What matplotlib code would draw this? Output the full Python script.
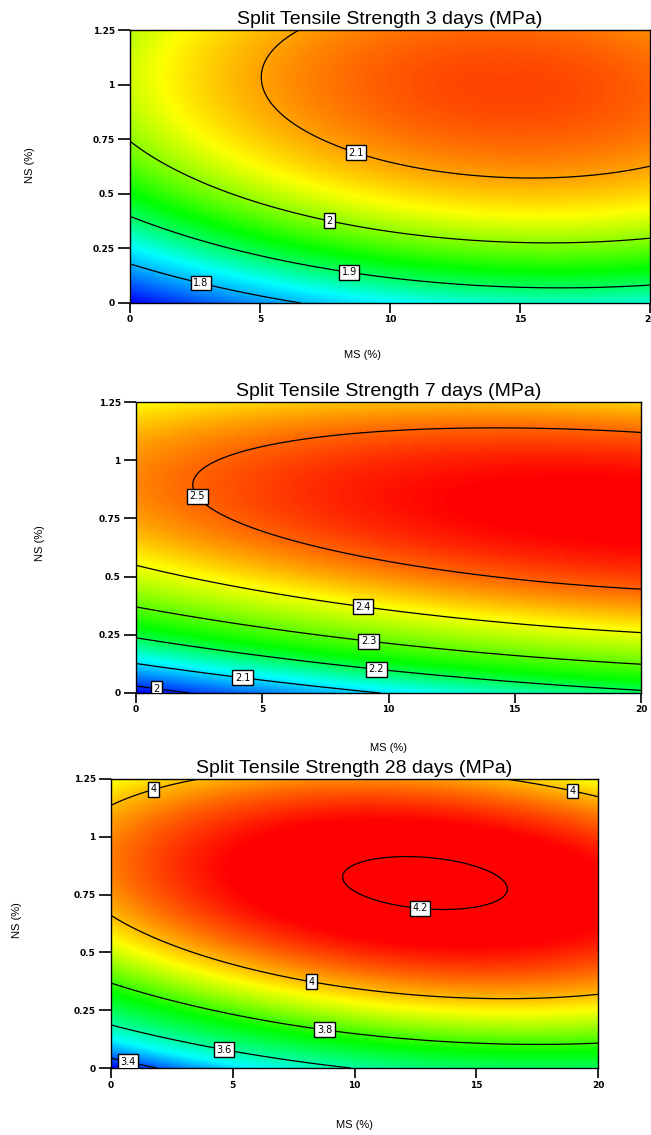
import numpy as np
import matplotlib
matplotlib.use('Agg')
import matplotlib.pyplot as plt
from matplotlib.colors import LinearSegmentedColormap

# quadratic response surfaces: b0, MS, NS, MS*NS, MS^2, NS^2
coef_3d = [1.69666, 0.0196026, 0.630845, -0.00257986, -0.000585804, -0.298857]
coef_7d = [1.96666, 0.0162904, 1.1317, -0.00782256, -0.000258873, -0.623074]
coef_28d = [3.33367, 0.0370626, 1.59606, -0.0135118, -0.00101789, -0.888642]

levels_3d = [1.8, 1.9, 2.0, 2.1]
levels_7d = [2.0, 2.1, 2.2, 2.3, 2.4, 2.5]
levels_28d = [3.4, 3.6, 3.8, 4.0, 4.2]

# where the contour values are written
labels_3d = [(2.77, 0.119), (8.46, 0.16), (7.69, 0.394), (8.73, 0.70)]
labels_7d = [(0.83, 0.047), (4.24, 0.086), (9.54, 0.125), (9.23, 0.241), (9.03, 0.391), (2.61, 0.859)]
labels_28d = [(0.74, 0.052), (4.68, 0.104), (8.8, 0.19), (8.26, 0.394), (1.72, 1.22), (19.0, 1.22), (12.7, 0.705)]

# response values at blue, cyan, green, yellow, red
stops_3d = [1.70, 1.84, 1.94, 2.05, 2.19]
stops_7d = [1.97, 2.12, 2.24, 2.41, 2.56]
stops_28d = [3.34, 3.52, 3.76, 3.95, 4.15]

titles = ['Split Tensile Strength 3 days (MPa)',
          'Split Tensile Strength 7 days (MPa)',
          'Split Tensile Strength 28 days (MPa)']
ms_ticks = [0, 5, 10, 15, 20]
ns_ticks = [0, 0.25, 0.5, 0.75, 1, 1.25]
ms_ticklabels = ['0', '5', '10', '15', '20']
ns_ticklabels = ['0', '0.25', '0.5', '0.75', '1', '1.25']

W, H = 651, 1135
fig = plt.figure(figsize=(W / 100, H / 100), dpi=100)

# axes boxes in pixels: left, top, right, bottom
boxes = [(130, 30, 650, 303), (136, 402, 641, 693), (111, 779, 598, 1068)]
xlabel_pos = [(362, 355), (388, 748), (355, 1125)]
ylabel_pos = [(30, 165), (40, 543), (17, 920)]
colours = ['#0000ff', '#00ffff', '#00ff00', '#ffff00', '#ff0000']

ms = np.linspace(0, 20, 241)
ns = np.linspace(0, 1.25, 151)
A, B = np.meshgrid(ms, ns)

panels = zip(boxes, [coef_3d, coef_7d, coef_28d], [levels_3d, levels_7d, levels_28d],
             [labels_3d, labels_7d, labels_28d], [stops_3d, stops_7d, stops_28d],
             titles, xlabel_pos, ylabel_pos)

for (l, t, r, b), c, lev, lab, stops, title, xl, yl in panels:
    ax = fig.add_axes([l / W, 1 - b / H, (r - l) / W, (b - t) / H])
    Z = c[0] + c[1] * A + c[2] * B + c[3] * A * B + c[4] * A ** 2 + c[5] * B ** 2

    lo, hi = stops[0], stops[-1]
    cmap = LinearSegmentedColormap.from_list(
        'resp', [((s - lo) / (hi - lo), col) for s, col in zip(stops, colours)])
    ax.pcolormesh(A, B, Z, cmap=cmap, vmin=lo, vmax=hi, shading='gouraud', rasterized=True)

    cs = ax.contour(A, B, Z, levels=lev, colors='black', linewidths=0.9)
    txts = ax.clabel(cs, fmt='%g', inline=False, manual=lab, fontsize=7)
    for tx in txts:
        tx.set_rotation(0)
        tx.set_family('DejaVu Sans')
        tx.set_bbox(dict(boxstyle='square,pad=0.25', fc='white', ec='black', lw=1.0))

    ax.set_xlim(0, 20)
    ax.set_ylim(0, 1.25)
    ax.set_xticks(ms_ticks)
    ax.set_xticklabels(ms_ticklabels)
    ax.set_yticks(ns_ticks)
    ax.set_yticklabels(ns_ticklabels)
    ax.tick_params(axis='x', length=7, width=1.2, pad=2, labelsize=6.5)
    ax.tick_params(axis='y', length=9, width=1.2, pad=2, labelsize=6.5)
    for lbl in ax.get_xticklabels() + ax.get_yticklabels():
        lbl.set_fontweight('bold')
    for sp in ax.spines.values():
        sp.set_linewidth(1.0)

    ax.set_title(title, fontsize=14, family='Liberation Sans', pad=4)
    fig.text(xl[0] / W, 1 - xl[1] / H, 'MS (%)', fontsize=8, family='Liberation Sans',
             ha='center', va='center')
    fig.text(yl[0] / W, 1 - yl[1] / H, 'NS (%)', fontsize=8, family='Liberation Sans',
             ha='center', va='center', rotation=90)

fig.savefig('out.png', dpi=100)
